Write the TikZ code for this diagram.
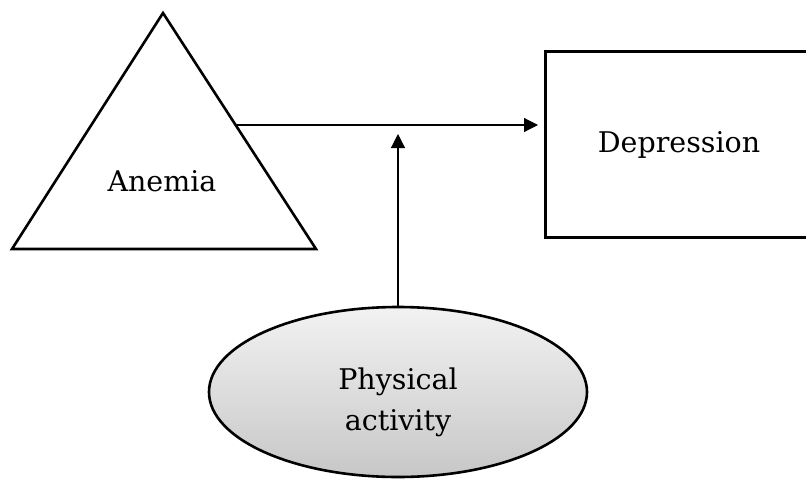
\documentclass[tikz,border=0pt]{standalone}
\usepackage{fontspec}
\setmainfont{DejaVu Serif}
\usetikzlibrary{arrows.meta,shapes.geometric}
\begin{document}
\begin{tikzpicture}[x=1pt,y=-1pt,
  shape line/.style={draw=black,line width=2.6pt},
  conn/.style={line width=1.2pt,-{Triangle[length=14pt,width=14pt]}},
  lbl/.style={font=\fontsize{28.5}{41}\selectfont,align=center,inner sep=0pt}]
\useasboundingbox (0,0) rectangle (806,479);
\clip (0,0) rectangle (806,479);
% triangle
\coordinate (tA) at (163,13);
\coordinate (tL) at (12,249);
\coordinate (tR) at (316,249);
\draw[shape line,line join=miter] (tA) -- (tL) -- (tR) -- cycle;
\node[lbl] (anemia) at (162,181) {Anemia};
% rectangle
\node[shape line,rectangle,minimum width=270pt,minimum height=186pt,inner sep=0pt,anchor=north west] (dep) at (544,50) {};
\node[lbl] (deptext) at (679,145) {Depression};
% ellipse
\node[shape line,ellipse,minimum width=378pt,minimum height=170pt,inner sep=0pt,
  top color=white!95!black,bottom color=black!22] (pa) at (398,392) {};
\node[lbl] (patext) at (398,402) {Physical\\activity};
% connectors
\coordinate (start) at (237,125);
\coordinate (vtip) at (398,134);
\draw[conn,shorten >=6pt] (start) -- (start -| dep.west);
\draw[conn] (pa.north) -- (vtip);
\end{tikzpicture}
\end{document}
